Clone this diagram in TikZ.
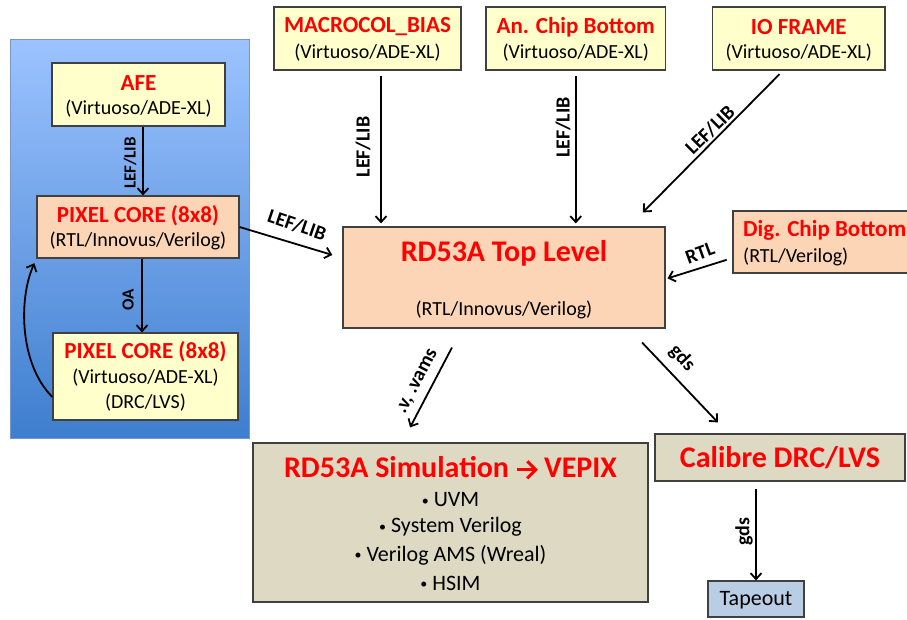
\documentclass[tikz,border=0pt]{standalone}
\usepackage{fontspec}
\setmainfont{Carlito}
\usetikzlibrary{arrows.meta}
\definecolor{ybox}{RGB}{255,255,204}
\definecolor{pbox}{RGB}{251,213,181}
\definecolor{tbox}{RGB}{221,217,195}
\definecolor{bbox}{RGB}{185,205,229}
\definecolor{bord}{RGB}{64,64,64}
\definecolor{ptop}{RGB}{156,195,255}
\definecolor{pbot}{RGB}{62,126,206}
\definecolor{pborder}{RGB}{120,150,200}
\definecolor{redtxt}{RGB}{255,0,0}
\newcommand{\smallbul}{\raisebox{1.5pt}{\fontsize{14}{14}\selectfont •}}
\newcommand{\bigarrow}{\tikz[baseline=-7.5pt]{\draw[redtxt, line width=3pt] (0pt,0pt) -- (17pt,0pt); \draw[redtxt, line width=3pt, line join=miter] (10pt,8.5pt) -- (18.5pt,0pt) -- (10pt,-8.5pt);}}
\tikzset{
  box/.style={draw=bord, line width=1.2pt, inner sep=0pt},
  ttl/.style={text=redtxt, font=\fontsize{23}{27}\selectfont\bfseries, inner sep=0pt},
  sub/.style={font=\fontsize{20}{24}\selectfont, inner sep=0pt},
  bul/.style={font=\fontsize{22}{26}\selectfont, inner sep=0pt},
  big/.style={text=redtxt, font=\fontsize{30}{34}\selectfont\bfseries, inner sep=0pt},
  lbl/.style={font=\fontsize{20}{24}\selectfont\bfseries, inner sep=0pt},
  slbl/.style={font=\fontsize{17}{20}\selectfont\bfseries, inner sep=0pt},
  arr/.style={-{Straight Barb[length=6pt,width=11pt]}, line width=1.8pt},
}
\begin{document}
\begin{tikzpicture}[x=1pt,y=-1pt]
\useasboundingbox (0,0) rectangle (907,619);
% left panel
\node[draw=pborder, line width=0.8pt, top color=ptop, bottom color=pbot, minimum width=239pt, minimum height=399pt, inner sep=0pt] (panel) at (129.5,238.5) {};
% boxes
\node[box, fill=ybox, minimum width=173pt, minimum height=63pt] (afe) at (138.5,94.5) {};
\node[box, fill=pbox, minimum width=202pt, minimum height=62pt] (pc1) at (138,227) {};
\node[box, fill=ybox, minimum width=185pt, minimum height=87pt] (pc2) at (145.5,376.5) {};
\node[box, fill=ybox, minimum width=187pt, minimum height=63pt] (mac) at (367.5,38.5) {};
\node[box, fill=ybox, minimum width=179.5pt, minimum height=63pt] (anc) at (575.75,38.5) {};
\node[box, fill=ybox, minimum width=172.5pt, minimum height=63pt] (io) at (798.75,38.5) {};
\node[box, fill=pbox, minimum width=322pt, minimum height=101pt] (top) at (504,277.5) {};
\node[box, fill=pbox, minimum width=187pt, minimum height=62pt] (dig) at (826.5,242) {};
\node[box, fill=tbox, minimum width=395pt, minimum height=159pt] (sim) at (450.5,522.5) {};
\node[box, fill=tbox, minimum width=250pt, minimum height=47pt] (cal) at (780,457.5) {};
\node[box, fill=bbox, minimum width=96pt, minimum height=36pt] (tape) at (756,599) {};
% texts
\node[ttl] (afeT) at (138.5,83) {AFE};
\node[sub] (afeS1) at (138.5,109) {(Virtuoso/ADE-XL)};
\node[ttl] (pc1T) at (138,216) {PIXEL CORE (8x8)};
\node[sub] (pc1S1) at (138,241) {(RTL/Innovus/Verilog)};
\node[ttl] (pc2T) at (145.5,352) {PIXEL CORE (8x8)};
\node[sub] (pc2S1) at (145.5,378) {(Virtuoso/ADE-XL)};
\node[sub] (pc2S2) at (145.5,403) {(DRC/LVS)};
\node[ttl] (macT) at (367.5,27) {MACROCOL\_BIAS};
\node[sub] (macS1) at (367.5,53) {(Virtuoso/ADE-XL)};
\node[ttl] (ancT) at (575.75,27) {An. Chip Bottom};
\node[sub] (ancS1) at (575.75,53) {(Virtuoso/ADE-XL)};
\node[ttl] (ioT) at (798.75,27) {IO FRAME};
\node[sub] (ioS1) at (798.75,53) {(Virtuoso/ADE-XL)};
\node[big] (topT) at (504,253) {RD53A Top Level};
\node[sub] (topS1) at (504,310) {(RTL/Innovus/Verilog)};
\node[ttl, anchor=west] (digT) at (743,230) {Dig. Chip Bottom};
\node[sub, anchor=west] (digS1) at (743,257) {(RTL/Verilog)};
\node[big] (simT) at (450.5,468) {RD53A Simulation \bigarrow\ VEPIX};
\node[bul] (b1) at (450.5,500) {\smallbul\ UVM};
\node[bul] (b2) at (450.5,527) {\smallbul\ System Verilog};
\node[bul] (b3) at (450.5,555) {\smallbul\ Verilog AMS (Wreal)};
\node[bul] (b4) at (450.5,583) {\smallbul\ HSIM};
\node[big] (calT) at (780,458) {Calibre DRC/LVS};
\node[bul] (tapeT) at (756,600) {Tapeout};
% connectors
\coordinate (afeSo) at ([xshift=4.5pt]afe.south);
\draw[arr] (afeSo) -- (afeSo |- pc1.north);
\coordinate (pc1So) at ([xshift=4pt]pc1.south);
\draw[arr] (pc1So) -- (pc1So |- pc2.north);
\draw[arr, shorten >=5pt] ([yshift=-20.5pt]pc2.west) .. controls (20,365) and (18,300) .. (pc1.south west);
\draw[arr, shorten >=10.5pt] (pc1.east) -- ([yshift=19.5pt]top.west);
\coordinate (macSo) at ([xshift=13.5pt]mac.south);
\draw[arr, shorten <=5pt, shorten >=3pt] (macSo) -- (macSo |- top.north);
\draw[arr, shorten <=5pt, shorten >=3pt] (anc.south) -- (anc.south |- top.north);
\draw[arr, shorten <=5pt, shorten >=19.7pt] ([xshift=-15.75pt]io.south) -- ([xshift=125pt]top.north);
\draw[arr, shorten <=6pt, shorten >=2pt] ([yshift=-16pt]dig.west) -- ([yshift=-1.5pt]top.east);
\draw[arr, shorten <=21.4pt, shorten >=16.9pt] ([xshift=-42.1pt]top.south) -- ([xshift=-48.3pt]sim.north);
\draw[arr, shorten <=19.2pt, shorten >=15.1pt] ([xshift=124.9pt]top.south) -- ([xshift=-51.7pt]cal.north);
\draw[arr, shorten <=7pt] (tape.north |- cal.south) -- (tape.north);
% connector labels
\node[slbl, rotate=90] (l1) at (130,163) {LEF/LIB};
\node[slbl, rotate=90] (l2) at (128,300) {OA};
\node[lbl, rotate=-19] (l3) at (297,225) {LEF/LIB};
\node[lbl, rotate=90] (l4) at (363,147) {LEF/LIB};
\node[lbl, rotate=90] (l5) at (563,127.5) {LEF/LIB};
\node[lbl, rotate=44.6] (l6) at (710,130) {LEF/LIB};
\node[lbl, rotate=20] (l7) at (700,253) {RTL};
\node[lbl, rotate=62.6] (l8) at (418,382) {.v, .vams};
\node[lbl, rotate=-47] (l9) at (682,358) {gds};
\node[lbl, rotate=90] (l10) at (744,532) {gds};
\end{tikzpicture}
\end{document}
